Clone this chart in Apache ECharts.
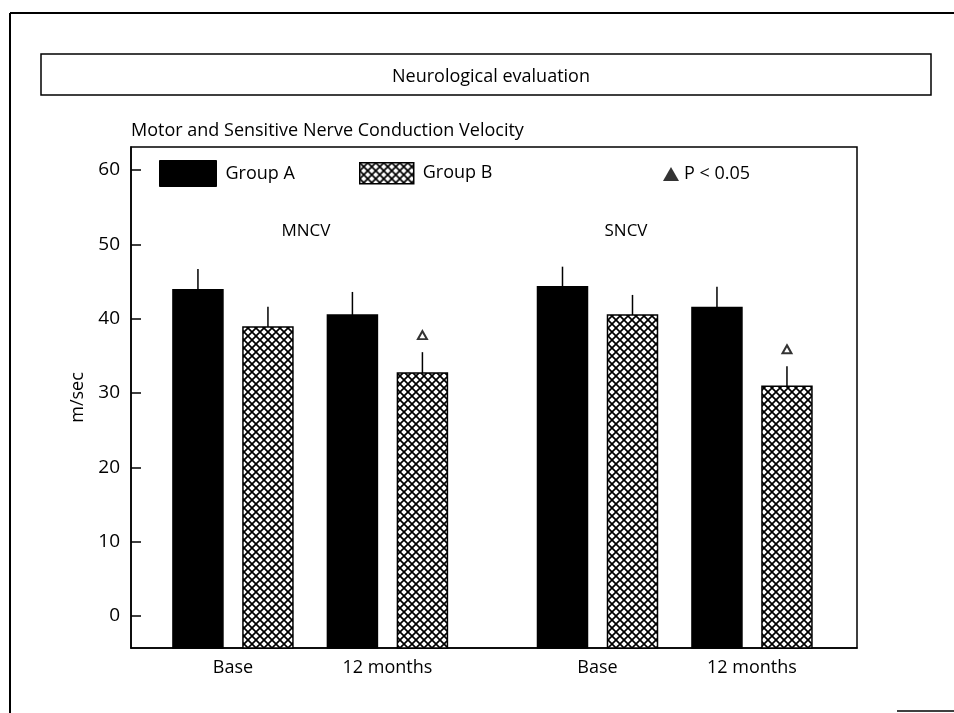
<!DOCTYPE html>
<html>
<head>
<meta charset="utf-8">
<script src="https://cdn.jsdelivr.net/npm/echarts@6/dist/echarts.min.js"></script>
<style>
  html, body { margin: 0; padding: 0; background: #fff; }
  #main { width: 954px; height: 713px; }
</style>
</head>
<body>
<div id="main"></div>
<script>
// data (order: MNCV base, MNCV 12 months, SNCV base, SNCV 12 months)
var measures = ['MNCV', 'SNCV'];
var timepoints = ['Base', '12 months'];
var groupA = [43.9, 40.5, 44.3, 41.5];
var groupB = [38.9, 32.7, 40.5, 30.9];
var errA = [2.8, 3.1, 2.7, 2.8];
var errB = [2.7, 2.8, 2.7, 2.7];
var significant = [false, true, false, true]; // group B, P < 0.05
var yTicks = [0, 10, 20, 30, 40, 50, 60];

// layout
var Y_MIN = -4.3, Y_MAX = 63.1;
var X_MIN = -0.66, X_MAX = 4.04;
var MEASURE_GAP = 2.36;
var FONT = '"Open Sans", sans-serif';

function slotOf(i) {
    return Math.floor(i / timepoints.length) * MEASURE_GAP + (i % timepoints.length);
}
var slots = [];
for (var i = 0; i < groupA.length; i++) slots.push(slotOf(i));

// cross hatch for group B
var hatch = document.createElement('canvas');
hatch.width = 8; hatch.height = 8;
var g = hatch.getContext('2d');
g.fillStyle = '#fff';
g.fillRect(0, 0, 8, 8);
g.strokeStyle = '#000';
g.lineWidth = 1.7;
g.beginPath();
g.moveTo(-2, -2); g.lineTo(10, 10);
g.moveTo(-2, 10); g.lineTo(10, -2);
g.stroke();
var hatchFill = { image: hatch, repeat: 'repeat' };

function seriesData(vals, errs) {
    var out = [];
    for (var i = 0; i < vals.length; i++) out.push([slots[i], vals[i], errs[i]]);
    return out;
}

function barRender(side, fill) {
    return function (params, api) {
        var x = api.value(0), v = api.value(1), e = api.value(2);
        var base = api.coord([x, Y_MIN]);
        var top = api.coord([x, v]);
        var errTop = api.coord([x, v + e]);
        var cx = top[0] + side * 35;
        return {
            type: 'group',
            children: [{
                type: 'rect',
                shape: { x: cx - 25, y: top[1], width: 50, height: base[1] - top[1] },
                style: { fill: fill, stroke: '#000', lineWidth: 1.5 }
            }, {
                type: 'line',
                shape: { x1: cx, y1: top[1], x2: cx, y2: errTop[1] },
                style: { stroke: '#000', lineWidth: 1.5 }
            }]
        };
    };
}

var sigData = [];
for (var i = 0; i < groupB.length; i++) {
    if (significant[i]) sigData.push([slots[i], groupB[i] + errB[i]]);
}

var myChart = echarts.init(document.getElementById('main'));
var option = {
    backgroundColor: '#fff',
    animation: false,
    textStyle: { fontFamily: FONT, color: '#000' },
    title: [{
        text: 'Neurological evaluation',
        left: 486, top: 63, textAlign: 'center',
        textStyle: { fontFamily: FONT, fontSize: 18, fontWeight: 'normal', color: '#000' }
    }, {
        text: 'Motor and Sensitive Nerve Conduction Velocity',
        left: 126, top: 117,
        textStyle: { fontFamily: FONT, fontSize: 18, fontWeight: 'normal', color: '#000' }
    }],
    graphic: [
        { type: 'line', shape: { x1: 10, y1: 13, x2: 954, y2: 13 }, style: { stroke: '#000', lineWidth: 2 } },
        { type: 'line', shape: { x1: 10, y1: 13, x2: 10, y2: 713 }, style: { stroke: '#000', lineWidth: 2 } },
        { type: 'line', shape: { x1: 897, y1: 711, x2: 954, y2: 711 }, style: { stroke: '#000', lineWidth: 1.5 } },
        { type: 'rect', shape: { x: 41, y: 54, width: 890, height: 41 }, style: { fill: 'none', stroke: '#000', lineWidth: 1.5 } },
        { type: 'text', x: 306, y: 231, style: { text: measures[0], font: '17px ' + FONT, fill: '#000', align: 'center', verticalAlign: 'middle' } },
        { type: 'text', x: 626, y: 231, style: { text: measures[1], font: '17px ' + FONT, fill: '#000', align: 'center', verticalAlign: 'middle' } }
    ],
    legend: [{
        left: 154, top: 155, icon: 'rect', itemWidth: 57, itemHeight: 26,
        textStyle: { fontFamily: FONT, fontSize: 18, color: '#000', padding: [0, 0, 0, 4] },
        data: [{ name: 'Group A', itemStyle: { color: '#000', borderColor: '#000', borderWidth: 1 } }]
    }, {
        left: 354, top: 157, icon: 'rect', itemWidth: 54, itemHeight: 21,
        textStyle: { fontFamily: FONT, fontSize: 18, color: '#000', padding: [0, 0, 0, 4] },
        data: [{ name: 'Group B', itemStyle: { color: hatchFill, borderColor: '#000', borderWidth: 1.5 } }]
    }, {
        left: 658, top: 160, itemWidth: 16, itemHeight: 14,
        textStyle: { fontFamily: FONT, fontSize: 18, color: '#000' },
        data: [{ name: 'P < 0.05', icon: 'triangle', itemStyle: { color: '#000', borderWidth: 0 } }]
    }],
    grid: {
        left: 131, right: 97, top: 147, bottom: 65,
        show: true, borderColor: '#000', borderWidth: 1.5, backgroundColor: 'transparent'
    },
    xAxis: {
        type: 'value', min: X_MIN, max: X_MAX,
        splitLine: { show: false },
        axisLine: { show: true, onZero: false, lineStyle: { color: '#000', width: 1.5 } },
        axisTick: { show: false },
        axisLabel: {
            customValues: slots,
            margin: 11,
            fontFamily: FONT, fontSize: 18, color: '#000',
            formatter: function (v) {
                for (var i = 0; i < slots.length; i++) {
                    if (Math.abs(slots[i] - v) < 1e-6) return timepoints[i % timepoints.length];
                }
                return '';
            }
        }
    },
    yAxis: {
        type: 'value', min: Y_MIN, max: Y_MAX,
        name: 'm/sec', nameLocation: 'middle', nameRotate: 90, nameGap: 41,
        nameTextStyle: { fontFamily: FONT, fontSize: 18, color: '#000' },
        splitLine: { show: false },
        axisLine: { show: true, onZero: false, lineStyle: { color: '#000', width: 1.5 } },
        axisTick: { show: true, inside: true, length: 10, customValues: yTicks, lineStyle: { color: '#000', width: 1.5 } },
        axisLabel: { customValues: yTicks, margin: 11, fontFamily: FONT, fontSize: 19, color: '#000' }
    },
    series: [{
        name: 'Group A',
        type: 'custom',
        itemStyle: { color: '#000' },
        renderItem: barRender(-1, '#000'),
        data: seriesData(groupA, errA)
    }, {
        name: 'Group B',
        type: 'custom',
        itemStyle: { color: hatchFill },
        renderItem: barRender(1, hatchFill),
        data: seriesData(groupB, errB)
    }, {
        name: 'P < 0.05',
        type: 'scatter',
        symbol: 'triangle',
        symbolSize: [9, 8],
        symbolOffset: [35, -17],
        itemStyle: { color: '#fff', borderColor: '#000', borderWidth: 2 },
        data: sigData
    }]
};
myChart.setOption(option);
</script>
</body>
</html>
